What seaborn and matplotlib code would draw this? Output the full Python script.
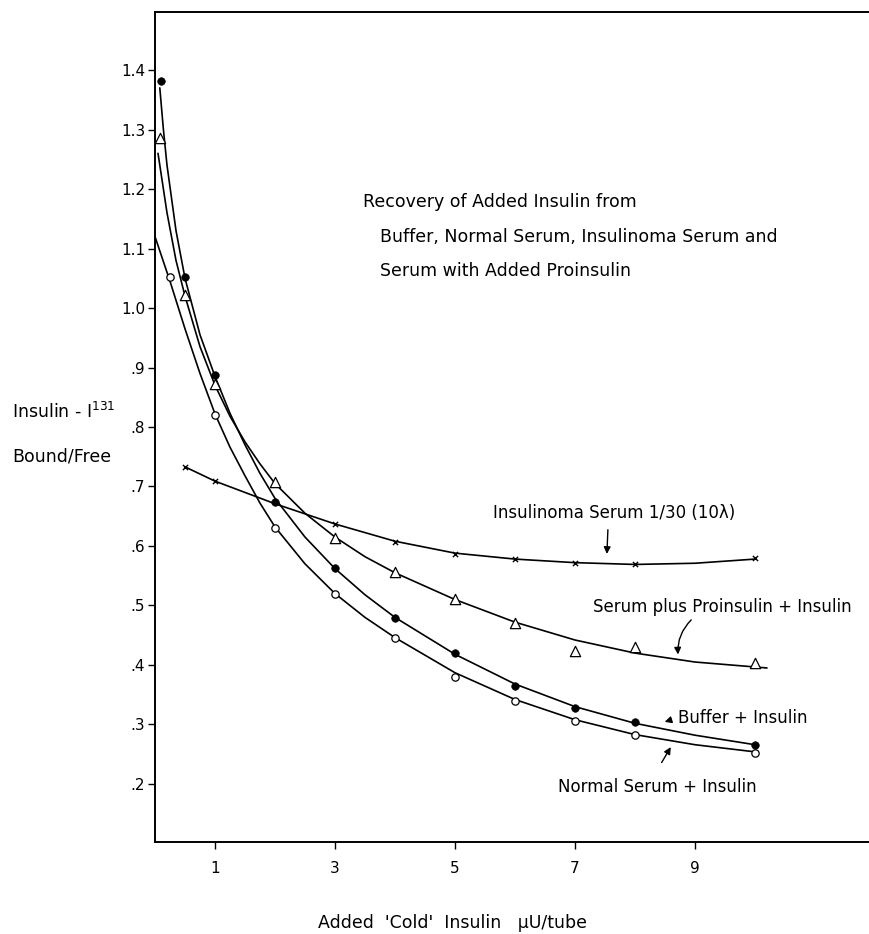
import numpy as np
import pandas as pd
import matplotlib
matplotlib.use("Agg")
import matplotlib.pyplot as plt
import seaborn as sns

# measured points
buffer_x = [0.1, 0.5, 1, 2, 3, 4, 5, 6, 7, 8, 10]
buffer_y = [1.382, 1.052, 0.887, 0.674, 0.563, 0.479, 0.42, 0.365, 0.328, 0.304, 0.266]

normal_x = [0.25, 1, 2, 3, 4, 5, 6, 7, 8, 10]
normal_y = [1.052, 0.82, 0.63, 0.519, 0.445, 0.38, 0.34, 0.306, 0.282, 0.252]

proins_x = [0.08, 0.5, 1, 2, 3, 4, 5, 6, 7, 8, 10]
proins_y = [1.286, 1.022, 0.872, 0.708, 0.613, 0.556, 0.511, 0.471, 0.424, 0.430, 0.403]

insulinoma_x = [0.5, 1, 3, 4, 5, 6, 7, 8, 10]
insulinoma_y = [0.733, 0.709, 0.637, 0.607, 0.587, 0.578, 0.571, 0.570, 0.580]

# hand-drawn fitted curves
buffer_curve_x = [0.08, 0.14, 0.2, 0.35, 0.5, 0.75, 1, 1.25, 1.5, 1.75, 2, 2.5, 3, 3.5, 4,
                  5, 6, 7, 8, 9, 10]
buffer_curve_y = [1.37, 1.30, 1.24, 1.13, 1.05, 0.955, 0.885, 0.823, 0.77, 0.722, 0.68, 0.615,
                  0.562, 0.518, 0.48, 0.418, 0.368, 0.33, 0.302, 0.282, 0.266]

normal_curve_x = [0, 0.25, 0.5, 0.75, 1, 1.25, 1.5, 1.75, 2, 2.5, 3, 3.5, 4, 5, 6, 7, 8, 9, 10]
normal_curve_y = [1.12, 1.045, 0.965, 0.89, 0.822, 0.766, 0.718, 0.672, 0.632, 0.57, 0.52,
                  0.48, 0.446, 0.387, 0.342, 0.308, 0.283, 0.266, 0.254]

proins_curve_x = [0.05, 0.2, 0.35, 0.5, 0.75, 1, 1.25, 1.5, 1.75, 2, 2.5, 3, 3.5, 4, 5, 6, 7,
                  8, 9, 10.2]
proins_curve_y = [1.26, 1.16, 1.08, 1.02, 0.935, 0.87, 0.818, 0.775, 0.738, 0.705, 0.655,
                  0.615, 0.582, 0.555, 0.51, 0.472, 0.442, 0.42, 0.405, 0.395]

insulinoma_curve_x = [0.5, 1, 2, 3, 4, 5, 6, 7, 8, 9, 10]
insulinoma_curve_y = [0.733, 0.709, 0.671, 0.637, 0.608, 0.588, 0.578, 0.572, 0.569, 0.571, 0.578]

y_ticks = [0.2, 0.3, 0.4, 0.5, 0.6, 0.7, 0.8, 0.9, 1.0, 1.1, 1.2, 1.3, 1.4]
y_tick_labels = [".2", ".3", ".4", ".5", ".6", ".7", ".8", ".9", "1.0", "1.1", "1.2", "1.3", "1.4"]
x_ticks = [1, 3, 5, 7, 9]
x_tick_labels = ["1", "3", "5", "7", "9"]

W, H = 869, 934


def main():
    sns.set_style("ticks")
    plt.rcParams["font.family"] = ["DejaVu Sans"]
    plt.rcParams["text.color"] = "black"

    fig = plt.figure(figsize=(W / 100, H / 100), dpi=100)
    ax = fig.add_axes([155 / W, (H - 842) / H, (W - 155) / W, (842 - 12) / H])

    curves = [
        (buffer_curve_x, buffer_curve_y),
        (normal_curve_x, normal_curve_y),
        (proins_curve_x, proins_curve_y),
        (insulinoma_curve_x, insulinoma_curve_y),
    ]
    for cx, cy in curves:
        d = pd.DataFrame({"x": cx, "y": cy})
        sns.lineplot(data=d, x="x", y="y", ax=ax, color="black", lw=1.2,
                     sort=False, estimator=None, zorder=2)

    sns.scatterplot(x=buffer_x, y=buffer_y, ax=ax, marker="o", s=30,
                    color="black", edgecolor="black", zorder=3)
    sns.scatterplot(x=normal_x, y=normal_y, ax=ax, marker="o", s=28,
                    color="white", edgecolor="black", linewidth=0.9, zorder=3)
    sns.scatterplot(x=proins_x, y=proins_y, ax=ax, marker="^", s=55,
                    color="white", edgecolor="black", linewidth=0.9, zorder=3)
    sns.scatterplot(x=insulinoma_x, y=insulinoma_y, ax=ax, marker="x", s=14,
                    color="black", linewidth=1.0, zorder=3)

    ax.set_xlim(0, (W - 155) / 60)
    ax.set_ylim(0.1025, 1.4975)
    ax.set_xticks(x_ticks)
    ax.set_xticklabels(x_tick_labels)
    ax.set_yticks(y_ticks)
    ax.set_yticklabels(y_tick_labels)
    ax.tick_params(axis="both", direction="out", length=5, width=1.0,
                   labelsize=11, color="black", labelcolor="black")
    ax.tick_params(axis="x", pad=9)
    ax.tick_params(axis="y", pad=2)
    ax.set_xlabel("")
    ax.set_ylabel("")
    ax.spines["right"].set_visible(False)
    for s in ["left", "bottom", "top"]:
        ax.spines[s].set_color("black")
        ax.spines[s].set_linewidth(1.4)

    def fx(px):
        return px / W

    def fy(py):
        return 1 - py / H

    fig.text(fx(318), fy(923), "Added  'Cold'  Insulin   \u03bcU/tube",
             fontsize=12.5, ha="left", va="center")
    fig.text(fx(12), fy(412), r"Insulin - I$^{131}$", fontsize=12.5, ha="left", va="center")
    fig.text(fx(12), fy(457), "Bound/Free", fontsize=12.5, ha="left", va="center")

    fig.text(fx(363), fy(202), "Recovery of Added Insulin from", fontsize=12.5,
             ha="left", va="center")
    fig.text(fx(380), fy(237), "Buffer, Normal Serum, Insulinoma Serum and", fontsize=12.5,
             ha="left", va="center")
    fig.text(fx(380), fy(271), "Serum with Added Proinsulin", fontsize=12.5,
             ha="left", va="center")

    arrow = dict(arrowstyle="-|>", color="black", lw=1.0, mutation_scale=10)

    ax.text(7.65, 0.655, "Insulinoma Serum 1/30 (10\u03bb)", fontsize=12,
            ha="center", va="center")
    ax.annotate("", xy=(7.53, 0.582), xytext=(7.55, 0.632), arrowprops=arrow)

    ax.text(9.45, 0.497, "Serum plus Proinsulin + Insulin", fontsize=12,
            ha="center", va="center")
    ax.annotate("", xy=(8.72, 0.413), xytext=(8.97, 0.479),
                arrowprops=dict(arrow, connectionstyle="arc3,rad=0.25"))

    ax.text(8.72, 0.311, "Buffer + Insulin", fontsize=12, ha="left", va="center")
    ax.annotate("", xy=(8.45, 0.303), xytext=(8.64, 0.309), arrowprops=arrow)

    ax.text(8.37, 0.195, "Normal Serum + Insulin", fontsize=12, ha="center", va="center")
    ax.annotate("", xy=(8.62, 0.266), xytext=(8.42, 0.232), arrowprops=arrow)

    fig.savefig("out.png", dpi=100)
    plt.close(fig)


if __name__ == "__main__":
    main()
